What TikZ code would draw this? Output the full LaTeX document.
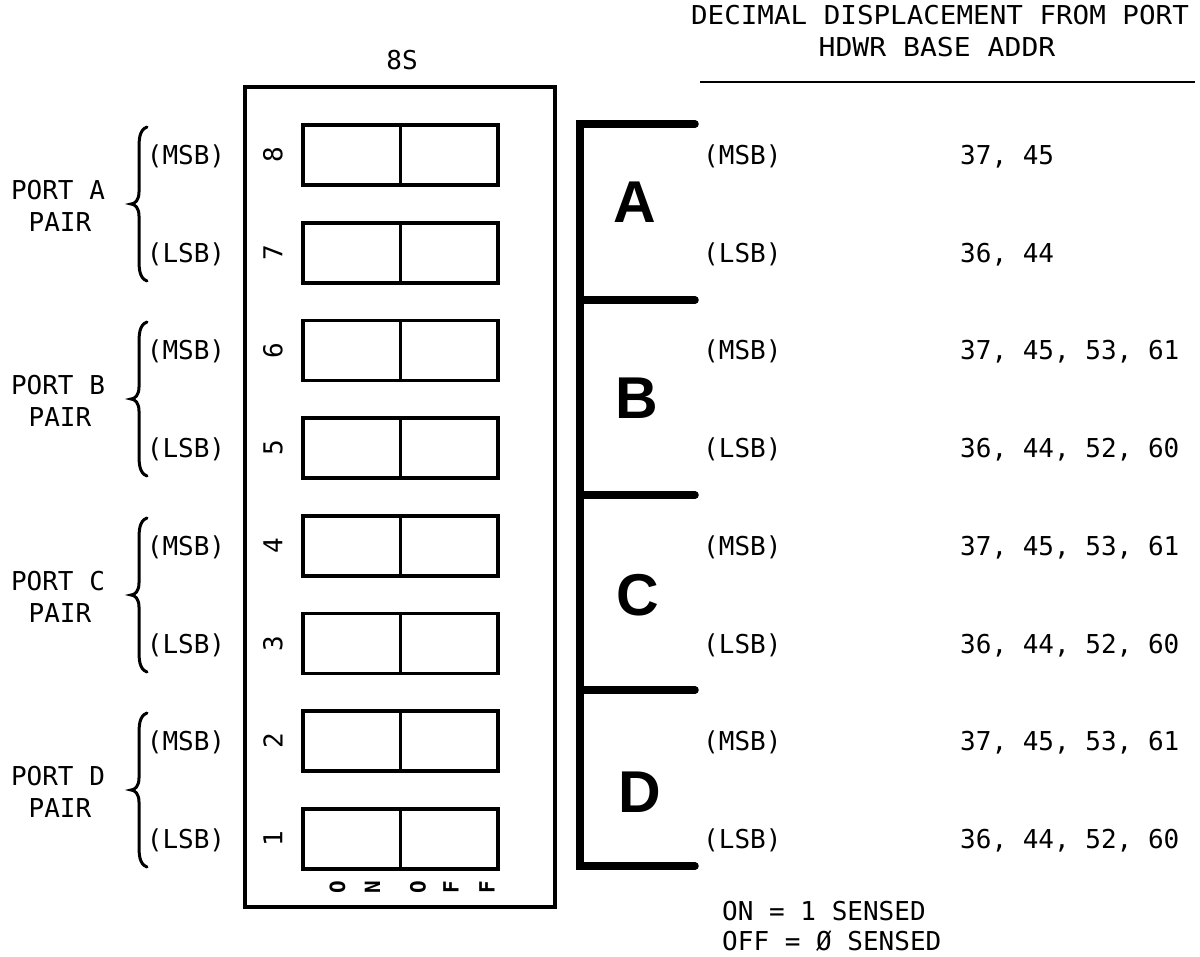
\documentclass[tikz,border=0pt]{standalone}
\usepackage{fontspec}
\newfontfamily\mono{DejaVu Sans Mono}
\newfontfamily\bigsans{Liberation Sans}
\begin{document}
\begin{tikzpicture}[x=1pt,y=-1pt,
  txt/.style={font=\mono\fontsize{26}{26}\selectfont, inner sep=0pt},
  small/.style={font=\mono\bfseries\fontsize{21}{21}\selectfont, inner sep=0pt, rotate=90},
  sw/.style={draw, line width=3.2pt, minimum width=195pt, minimum height=60pt, inner sep=0pt},
  big/.style={font=\bigsans\bfseries\fontsize{59}{59}\selectfont, inner sep=0pt},
  brk/.style={line width=7.5pt, line cap=round},
  brc/.style={line width=3pt, line cap=round}]
\useasboundingbox (0,0) rectangle (1200,957);
% header
\node[txt, anchor=base, xscale=1.06] (h1) at (940,24.5) {DECIMAL DISPLACEMENT FROM PORT};
\node[txt, anchor=base, xscale=1.08] (h2) at (937,56.5) {HDWR BASE ADDR};
\coordinate (r1) at (700,82);
\coordinate (r2) at (1195,82);
\draw[line width=2.4pt] (r1) -- (r2);
\node[txt, anchor=base] (t8s) at (402,69.5) {8S};
% outer box
\draw[line width=3.2pt] (245,87) rectangle (555,907);
% switches
\foreach \k/\y in {8/155,7/253,6/350.5,5/448,4/546,3/643.5,2/741,1/839} {
  \node[sw] (s\k) at (400.5,\y) {};
  \draw[line width=3.2pt] (s\k.north) -- (s\k.south);
  \node[txt, rotate=90] (n\k) at (273,\y) {\k};
}
% ON OFF
\node[small] (o1) at (337.5,887.5) {O};
\node[small] (o2) at (372.5,887.5) {N};
\node[small] (o3) at (418,887.5) {O};
\node[small] (o4) at (451,887.5) {F};
\node[small] (o5) at (487,887.5) {F};
% left labels
\foreach \y/\t in {155/(MSB),253/(LSB),350.5/(MSB),448/(LSB),546/(MSB),643.5/(LSB),741/(MSB),839/(LSB)} {
  \node[txt, anchor=base] at (186,\y+9.5) {\t};
  \node[txt, anchor=base west] at (703,\y+9.5) {\t};
}
% braces and port names
\foreach \p/\yc in {A/204,B/399,C/595,D/790} {
  \draw[brc] (147,{\yc-77}) .. controls (139,{\yc-74}) and (139,{\yc-64}) .. (139,{\yc-54})
     -- (139,{\yc-12}) .. controls (139,{\yc-4}) and (135,\yc) .. (131,\yc)
     .. controls (135,\yc) and (139,{\yc+4}) .. (139,{\yc+12})
     -- (139,{\yc+54}) .. controls (139,{\yc+64}) and (139,{\yc+74}) .. (147,{\yc+77});
  \node[txt, anchor=base] (port\p) at (58,{\yc-14+9.5}) {PORT \p};
  \node[txt, anchor=base] (pair\p) at (60,{\yc+18+9.5}) {PAIR};
}
% bracket
\coordinate (b0) at (580,124);
\coordinate (b4) at (580,866);
\coordinate (e0) at (695,124);
\coordinate (e4) at (695,866);
\draw[brk] (e0) -- (b0) -- (b4) -- (e4);
\foreach \y/\i in {300/1,495/2,690/3} {
  \coordinate (b\i) at (580,\y);
  \coordinate (e\i) at (695,\y);
  \draw[brk] (b\i) -- (e\i);
}
\node[big] (LA) at (635,202) {A};
\node[big] (LB) at (637,398) {B};
\node[big] (LC) at (638,595) {C};
\node[big] (LD) at (640,792) {D};
% values
\node[txt, anchor=base west] at (960,155+9.5) {37, 45};
\node[txt, anchor=base west] at (960,253+9.5) {36, 44};
\foreach \y/\t in {350.5/{37, 45, 53, 61},448/{36, 44, 52, 60},546/{37, 45, 53, 61},643.5/{36, 44, 52, 60},741/{37, 45, 53, 61},839/{36, 44, 52, 60}} {
  \node[txt, anchor=base west] at (960,\y+9.5) {\t};
}
% legend
\node[txt, anchor=base west] (on) at (722,920.5) {ON = 1 SENSED};
\node[txt, anchor=base west] (off) at (722,950) {OFF = Ø SENSED};
\end{tikzpicture}
\end{document}
